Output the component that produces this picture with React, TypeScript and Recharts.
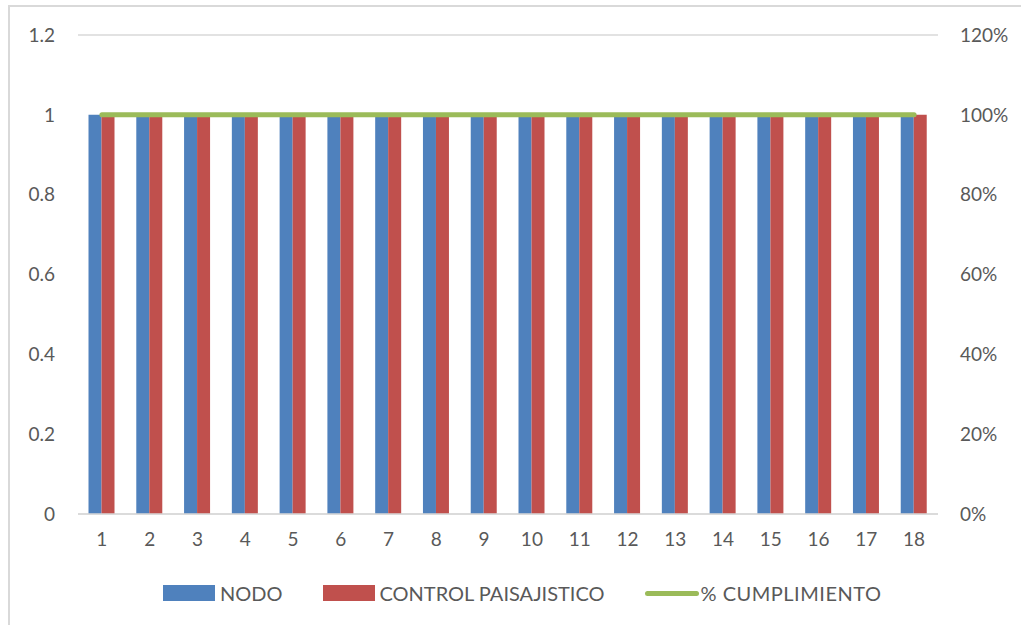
import React from 'react';
import { ComposedChart, Bar, Line, XAxis, YAxis, CartesianGrid } from 'recharts';

const categories = ['1', '2', '3', '4', '5', '6', '7', '8', '9', '10', '11', '12', '13', '14', '15', '16', '17', '18'];
const nodo = [1, 1, 1, 1, 1, 1, 1, 1, 1, 1, 1, 1, 1, 1, 1, 1, 1, 1];
const controlPaisajistico = [1, 1, 1, 1, 1, 1, 1, 1, 1, 1, 1, 1, 1, 1, 1, 1, 1, 1];
const cumplimiento = [1, 1, 1, 1, 1, 1, 1, 1, 1, 1, 1, 1, 1, 1, 1, 1, 1, 1];
const leftTicks = [0, 0.2, 0.4, 0.6, 0.8, 1, 1.2];
const rightTicks = [0, 0.2, 0.4, 0.6, 0.8, 1, 1.2];

const data = categories.map((name, i) => ({
  name,
  nodo: nodo[i],
  control: controlPaisajistico[i],
  pct: cumplimiento[i],
}));

const FONT = 'Lato, "Open Sans", sans-serif';
const TEXT = '#595959';

// legend drawn as plain html under the plot, like the excel one
function ChartLegend() {
  const item = { display: 'flex', alignItems: 'center' } as const;
  return (
    <div
      style={{
        position: 'absolute', left: 163, top: 581,
        display: 'flex', alignItems: 'center', gap: 40,
        fontFamily: FONT, fontSize: 20, color: TEXT, whiteSpace: 'nowrap',
      }}
    >
      <div style={item}>
        <span style={{ width: 52, height: 16, background: '#4F81BD', marginRight: 5 }} />
        NODO
      </div>
      <div style={item}>
        <span style={{ width: 52, height: 16, background: '#C0504D', marginRight: 5 }} />
        CONTROL PAISAJISTICO
      </div>
      <div style={item}>
        <span style={{ width: 54, height: 5, borderRadius: 3, background: '#9BBB59', marginRight: 2 }} />
        <span style={{ letterSpacing: 0.5 }}>% CUMPLIMIENTO</span>
      </div>
    </div>
  );
}

export default function App() {
  const tickStyle = { fill: TEXT, fontSize: 19, fontFamily: FONT };
  return (
    <div style={{ position: 'absolute', left: 0, top: 0, width: 1021, height: 625, background: '#fff', overflow: 'hidden' }}>
      <div style={{ position: 'absolute', left: 8, top: 5, width: 1100, height: 700, borderTop: '2px solid #d9d9d9', borderLeft: '2px solid #d9d9d9' }} />
      <div style={{ position: 'absolute', left: 0, top: 0 }}>
        <ComposedChart
          width={1021}
          height={625}
          data={data}
          margin={{ top: 35, right: 13, bottom: 0, left: 8 }}
          barCategoryGap="22%"
          barGap={0}
        >
          <CartesianGrid vertical={false} stroke="#d9d9d9" strokeWidth={1.5} />
          <XAxis
            dataKey="name"
            tick={tickStyle}
            tickLine={false}
            axisLine={{ stroke: '#d9d9d9', strokeWidth: 1.5 }}
            tickSize={0}
            tickMargin={19}
            height={111}
          />
          <YAxis
            yAxisId="left"
            domain={[0, 1.2]}
            ticks={leftTicks}
            tick={tickStyle}
            tickLine={false}
            axisLine={false}
            tickSize={0}
            tickMargin={23}
            width={70}
            tickFormatter={(v: number) => String(Number(v.toFixed(1)))}
          />
          <YAxis
            yAxisId="right"
            orientation="right"
            domain={[0, 1.2]}
            ticks={rightTicks}
            tick={{ ...tickStyle, textAnchor: 'start' }}
            tickLine={false}
            axisLine={false}
            tickSize={0}
            tickMargin={22}
            width={70}
            tickFormatter={(v: number) => `${Math.round(v * 100)}%`}
          />
          <Bar yAxisId="left" dataKey="nodo" name="NODO" fill="#4F81BD" isAnimationActive={false} />
          <Bar yAxisId="left" dataKey="control" name="CONTROL PAISAJISTICO" fill="#C0504D" isAnimationActive={false} />
          <Line
            yAxisId="right"
            dataKey="pct"
            name="% CUMPLIMIENTO"
            stroke="#9BBB59"
            strokeWidth={5}
            strokeLinecap="round"
            dot={false}
            activeDot={false}
            isAnimationActive={false}
          />
        </ComposedChart>
      </div>
      <ChartLegend />
    </div>
  );
}
